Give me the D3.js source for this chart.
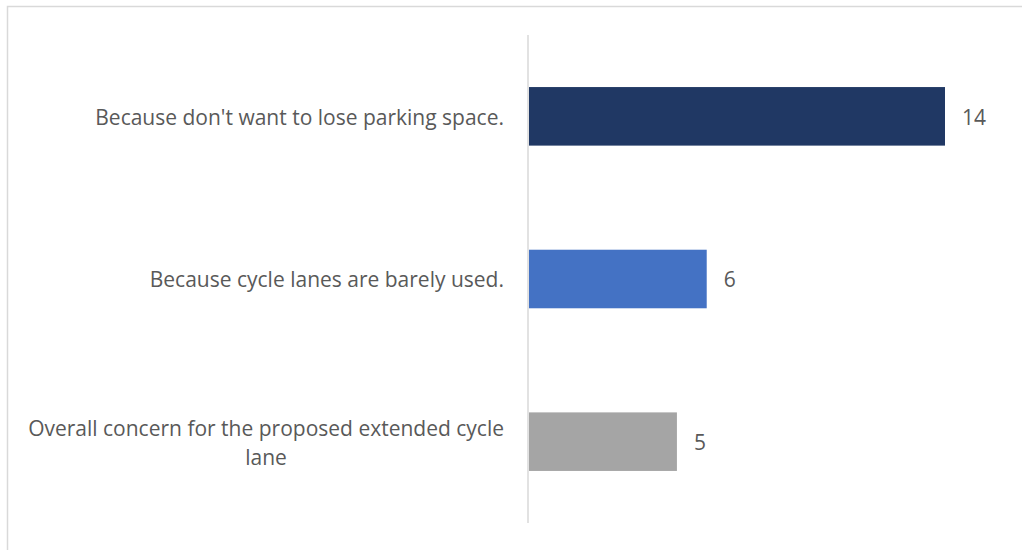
<!DOCTYPE html>
<html>
<head>
<meta charset="utf-8">
<script src="https://cdn.jsdelivr.net/npm/d3@7"></script>
<style>
  body { margin: 0; background: #fff; }
  svg text { font-family: "Open Sans", sans-serif; fill: #595959; }
</style>
</head>
<body>
<svg id="chart" width="1022" height="550"></svg>
<script>
  // data
  var categories = [
    "Because don't want to lose parking space.",
    "Because cycle lanes are barely used.",
    "Overall concern for the proposed extended cycle lane"
  ];
  var values = [14, 6, 5];
  var colors = ["#203864", "#4472C4", "#A5A5A5"];

  var svg = d3.select("#chart");
  var fs = "21px";

  // outer chart border (runs past the right/bottom edge)
  svg.append("rect")
    .attr("x", 7.5).attr("y", 6.5)
    .attr("width", 1040).attr("height", 560)
    .attr("fill", "none").attr("stroke", "#d9d9d9").attr("stroke-width", 1.5);

  var axisX = 528;
  var x = d3.scaleLinear().domain([0, 14]).range([axisX, 945]);
  var y = d3.scaleBand().domain(categories).range([35, 523])
    .paddingInner(0.64).paddingOuter(0.32);

  svg.selectAll(".bar").data(categories).enter().append("rect")
    .attr("class", "bar")
    .attr("x", x(0) + 1)
    .attr("y", function(d){ return y(d) })
    .attr("width", function(d, i){ return x(values[i]) - x(0) - 1 })
    .attr("height", y.bandwidth())
    .attr("fill", function(d, i){ return colors[i] });

  // vertical category axis line
  svg.append("line")
    .attr("x1", axisX).attr("x2", axisX)
    .attr("y1", 35).attr("y2", 523)
    .attr("stroke", "#d9d9d9").attr("stroke-width", 1.5);

  // value labels
  svg.selectAll(".val").data(values).enter().append("text")
    .attr("class", "val")
    .attr("x", function(d){ return x(d) + 17 })
    .attr("y", function(d, i){ return y(categories[i]) + y.bandwidth()/2 + 1 })
    .attr("dy", "0.35em")
    .style("font-size", fs)
    .text(function(d){ return d });

  // category labels, wrapped and centred like Excel does
  var labelRight = 504, maxW = 485, lineH = 29;
  categories.forEach(function(cat, i){
    var g = svg.append("g");
    var words = cat.split(" "), lines = [], cur = "";
    var probe = g.append("text").style("font-size", fs);
    words.forEach(function(w){
      var t = cur ? cur + " " + w : w;
      probe.text(t);
      if (probe.node().getComputedTextLength() > maxW && cur) { lines.push(cur); cur = w }
      else cur = t;
    });
    lines.push(cur);
    var widths = lines.map(function(l){ probe.text(l); return probe.node().getComputedTextLength() });
    probe.remove();
    var W = d3.max(widths);
    var cx = labelRight - W/2;
    var cy = y(cat) + y.bandwidth()/2 + 1 - (lines.length - 1) * lineH / 2;
    lines.forEach(function(l, k){
      g.append("text")
        .attr("x", cx).attr("y", cy + k*lineH)
        .attr("dy", "0.35em")
        .attr("text-anchor", "middle")
        .style("font-size", fs)
        .text(l);
    });
  });
</script>
</body>
</html>
